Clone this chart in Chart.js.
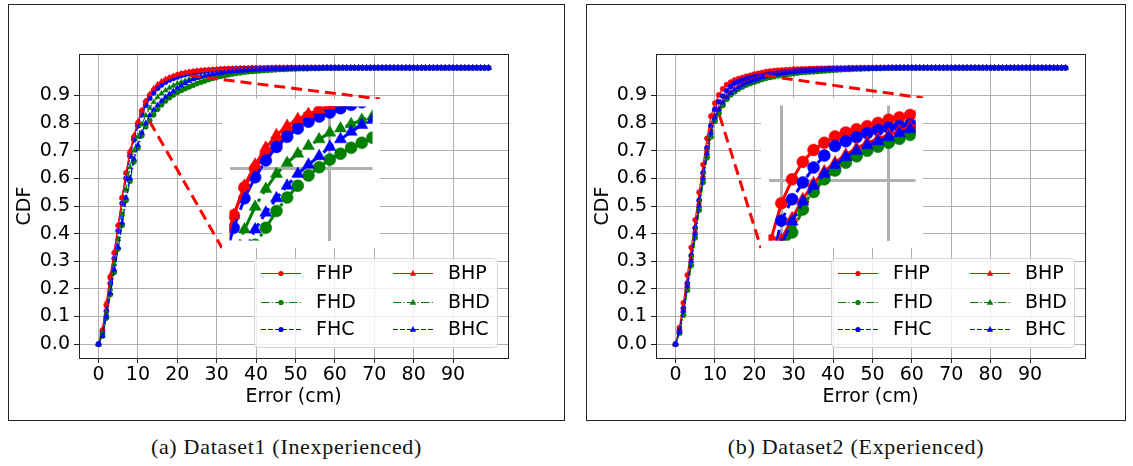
<!DOCTYPE html>
<html>
<head>
<meta charset="utf-8">
<script src="https://cdn.jsdelivr.net/npm/chart.js@4.4.0/dist/chart.umd.min.js"></script>
<style>
  body { margin: 0; background: #fff; width: 1133px; height: 466px; overflow: hidden; position: relative; }
  .box { position: absolute; border: 1px solid #222; box-sizing: border-box; }
  canvas { position: absolute; }
  .inset { background: #fff; }
  .cap { position: absolute; top: 434px; font-family: 'Liberation Serif', serif; font-size: 22px; letter-spacing: 0.7px; color: #111; text-align: center; white-space: nowrap; }
</style>
</head>
<body>
<div class="box" style="left:8px;top:4px;width:557px;height:417px"></div>
<div class="box" style="left:586px;top:4px;width:540px;height:417px"></div>
<canvas id="main1" width="556" height="416" style="left:8px;top:4px"></canvas>
<canvas id="inset1" class="inset" width="158" height="149" style="left:222px;top:99px"></canvas>
<canvas id="main2" width="539" height="416" style="left:586px;top:4px"></canvas>
<canvas id="inset2" class="inset" width="162" height="150" style="left:761px;top:98px"></canvas>
<div class="cap" style="left:8px;width:557px">(a) Dataset1 (Inexperienced)</div>
<div class="cap" style="left:586px;width:540px">(b) Dataset2 (Experienced)</div>

<script>
const errorCm = [
  0, 1, 2, 3, 4, 5, 6, 7, 8, 9,
  10, 11, 12, 13, 14, 15, 16, 17, 18, 19,
  20, 21, 22, 23, 24, 25, 26, 27, 28, 29,
  30, 31, 32, 33, 34, 35, 36, 37, 38, 39,
  40, 41, 42, 43, 44, 45, 46, 47, 48, 49,
  50, 51, 52, 53, 54, 55, 56, 57, 58, 59,
  60, 61, 62, 63, 64, 65, 66, 67, 68, 69,
  70, 71, 72, 73, 74, 75, 76, 77, 78, 79,
  80, 81, 82, 83, 84, 85, 86, 87, 88, 89,
  90, 91, 92, 93, 94, 95, 96, 97, 98, 99
];
const xTicks = [0, 10, 20, 30, 40, 50, 60, 70, 80, 90];
const yTicks = [0, 0.1, 0.2, 0.3, 0.4, 0.5, 0.6, 0.7, 0.8, 0.9];
const seriesNames = ['FHP', 'FHD', 'FHC', 'BHP', 'BHD', 'BHC'];

// Dataset1 (Inexperienced)
const fhp1 = [
  0, 0.05, 0.14, 0.24, 0.33, 0.43, 0.53, 0.62, 0.69, 0.75,
  0.80, 0.845, 0.878, 0.90, 0.918, 0.93, 0.944, 0.954, 0.962, 0.968,
  0.974, 0.978, 0.981, 0.984, 0.986, 0.988, 0.99, 0.991, 0.992, 0.993,
  0.994, 0.995, 0.996, 0.996, 0.997, 0.997, 0.998, 0.998, 0.998, 0.999,
  0.999, 0.999, 0.999, 0.999, 0.999, 1, 1, 1, 1, 1,
  1, 1, 1, 1, 1, 1, 1, 1, 1, 1,
  1, 1, 1, 1, 1, 1, 1, 1, 1, 1,
  1, 1, 1, 1, 1, 1, 1, 1, 1, 1,
  1, 1, 1, 1, 1, 1, 1, 1, 1, 1,
  1, 1, 1, 1, 1, 1, 1, 1, 1, 1
];
const fhd1 = [
  0, 0.03, 0.095, 0.18, 0.26, 0.345, 0.43, 0.52, 0.59, 0.66,
  0.71, 0.755, 0.787, 0.81, 0.83, 0.85, 0.866, 0.88, 0.892, 0.902,
  0.911, 0.918, 0.925, 0.931, 0.937, 0.943, 0.948, 0.953, 0.958, 0.962,
  0.966, 0.969, 0.972, 0.975, 0.978, 0.98, 0.982, 0.984, 0.986, 0.987,
  0.988, 0.989, 0.99, 0.991, 0.992, 0.993, 0.994, 0.994, 0.995, 0.996,
  0.996, 0.997, 0.997, 0.997, 0.998, 0.998, 0.998, 0.999, 0.999, 0.999,
  0.999, 0.999, 1, 1, 1, 1, 1, 1, 1, 1,
  1, 1, 1, 1, 1, 1, 1, 1, 1, 1,
  1, 1, 1, 1, 1, 1, 1, 1, 1, 1,
  1, 1, 1, 1, 1, 1, 1, 1, 1, 1
];
const fhc1 = [
  0, 0.04, 0.12, 0.22, 0.31, 0.41, 0.51, 0.60, 0.68, 0.74,
  0.79, 0.83, 0.865, 0.89, 0.91, 0.926, 0.938, 0.948, 0.956, 0.962,
  0.967, 0.972, 0.976, 0.979, 0.982, 0.984, 0.986, 0.988, 0.99, 0.991,
  0.992, 0.993, 0.994, 0.995, 0.995, 0.996, 0.996, 0.997, 0.997, 0.998,
  0.998, 0.998, 0.998, 0.999, 0.999, 0.999, 0.999, 0.999, 1, 1,
  1, 1, 1, 1, 1, 1, 1, 1, 1, 1,
  1, 1, 1, 1, 1, 1, 1, 1, 1, 1,
  1, 1, 1, 1, 1, 1, 1, 1, 1, 1,
  1, 1, 1, 1, 1, 1, 1, 1, 1, 1,
  1, 1, 1, 1, 1, 1, 1, 1, 1, 1
];
const bhp1 = [
  0, 0.055, 0.15, 0.25, 0.335, 0.43, 0.53, 0.62, 0.70, 0.755,
  0.805, 0.845, 0.88, 0.905, 0.925, 0.94, 0.951, 0.959, 0.965, 0.97,
  0.975, 0.979, 0.982, 0.985, 0.987, 0.989, 0.99, 0.991, 0.992, 0.993,
  0.994, 0.995, 0.996, 0.996, 0.997, 0.997, 0.998, 0.998, 0.998, 0.999,
  0.999, 0.999, 0.999, 0.999, 0.999, 1, 1, 1, 1, 1,
  1, 1, 1, 1, 1, 1, 1, 1, 1, 1,
  1, 1, 1, 1, 1, 1, 1, 1, 1, 1,
  1, 1, 1, 1, 1, 1, 1, 1, 1, 1,
  1, 1, 1, 1, 1, 1, 1, 1, 1, 1,
  1, 1, 1, 1, 1, 1, 1, 1, 1, 1
];
const bhd1 = [
  0, 0.04, 0.11, 0.20, 0.29, 0.38, 0.47, 0.56, 0.64, 0.70,
  0.75, 0.795, 0.828, 0.855, 0.876, 0.894, 0.907, 0.918, 0.927, 0.935,
  0.943, 0.948, 0.953, 0.958, 0.962, 0.965, 0.968, 0.971, 0.974, 0.976,
  0.978, 0.98, 0.982, 0.984, 0.985, 0.987, 0.988, 0.989, 0.99, 0.991,
  0.992, 0.993, 0.994, 0.994, 0.995, 0.996, 0.996, 0.997, 0.997, 0.997,
  0.998, 0.998, 0.998, 0.999, 0.999, 0.999, 0.999, 0.999, 1, 1,
  1, 1, 1, 1, 1, 1, 1, 1, 1, 1,
  1, 1, 1, 1, 1, 1, 1, 1, 1, 1,
  1, 1, 1, 1, 1, 1, 1, 1, 1, 1,
  1, 1, 1, 1, 1, 1, 1, 1, 1, 1
];
const bhc1 = [
  0, 0.03, 0.10, 0.185, 0.27, 0.35, 0.44, 0.53, 0.60, 0.67,
  0.72, 0.765, 0.80, 0.828, 0.848, 0.865, 0.88, 0.894, 0.905, 0.915,
  0.926, 0.935, 0.944, 0.952, 0.958, 0.963, 0.967, 0.971, 0.974, 0.977,
  0.979, 0.981, 0.983, 0.985, 0.987, 0.988, 0.989, 0.99, 0.991, 0.992,
  0.993, 0.994, 0.994, 0.995, 0.996, 0.996, 0.997, 0.997, 0.997, 0.998,
  0.998, 0.998, 0.999, 0.999, 0.999, 0.999, 0.999, 1, 1, 1,
  1, 1, 1, 1, 1, 1, 1, 1, 1, 1,
  1, 1, 1, 1, 1, 1, 1, 1, 1, 1,
  1, 1, 1, 1, 1, 1, 1, 1, 1, 1,
  1, 1, 1, 1, 1, 1, 1, 1, 1, 1
];

// Dataset2 (Experienced)
const fhp2 = [
  0, 0.06, 0.15, 0.25, 0.35, 0.45, 0.55, 0.65, 0.745, 0.825,
  0.872, 0.902, 0.924, 0.939, 0.948, 0.956, 0.961, 0.965, 0.969, 0.973,
  0.977, 0.98, 0.983, 0.986, 0.988, 0.99, 0.991, 0.992, 0.993, 0.994,
  0.995, 0.995, 0.996, 0.996, 0.997, 0.997, 0.998, 0.998, 0.998, 0.999,
  0.999, 0.999, 0.999, 0.999, 1, 1, 1, 1, 1, 1,
  1, 1, 1, 1, 1, 1, 1, 1, 1, 1,
  1, 1, 1, 1, 1, 1, 1, 1, 1, 1,
  1, 1, 1, 1, 1, 1, 1, 1, 1, 1,
  1, 1, 1, 1, 1, 1, 1, 1, 1, 1,
  1, 1, 1, 1, 1, 1, 1, 1, 1, 1
];
const fhd2 = [
  0, 0.04, 0.105, 0.195, 0.285, 0.385, 0.485, 0.585, 0.675, 0.75,
  0.807, 0.835, 0.864, 0.886, 0.902, 0.913, 0.923, 0.931, 0.938, 0.943,
  0.948, 0.953, 0.958, 0.962, 0.965, 0.968, 0.971, 0.973, 0.975, 0.977,
  0.979, 0.981, 0.983, 0.984, 0.985, 0.986, 0.987, 0.988, 0.989, 0.99,
  0.991, 0.992, 0.993, 0.994, 0.994, 0.995, 0.996, 0.996, 0.997, 0.997,
  0.998, 0.998, 0.998, 0.999, 0.999, 0.999, 0.999, 1, 1, 1,
  1, 1, 1, 1, 1, 1, 1, 1, 1, 1,
  1, 1, 1, 1, 1, 1, 1, 1, 1, 1,
  1, 1, 1, 1, 1, 1, 1, 1, 1, 1,
  1, 1, 1, 1, 1, 1, 1, 1, 1, 1
];
const fhc2 = [
  0, 0.05, 0.13, 0.22, 0.32, 0.42, 0.52, 0.62, 0.71, 0.79,
  0.85, 0.877, 0.898, 0.917, 0.932, 0.944, 0.95, 0.955, 0.96, 0.964,
  0.967, 0.969, 0.971, 0.974, 0.977, 0.979, 0.981, 0.983, 0.985, 0.986,
  0.988, 0.989, 0.99, 0.991, 0.992, 0.993, 0.994, 0.995, 0.995, 0.996,
  0.996, 0.997, 0.997, 0.997, 0.998, 0.998, 0.998, 0.998, 0.999, 0.999,
  0.999, 0.999, 0.999, 1, 1, 1, 1, 1, 1, 1,
  1, 1, 1, 1, 1, 1, 1, 1, 1, 1,
  1, 1, 1, 1, 1, 1, 1, 1, 1, 1,
  1, 1, 1, 1, 1, 1, 1, 1, 1, 1,
  1, 1, 1, 1, 1, 1, 1, 1, 1, 1
];
const bhp2 = [
  0, 0.05, 0.125, 0.215, 0.31, 0.41, 0.51, 0.61, 0.70, 0.775,
  0.826, 0.853, 0.877, 0.897, 0.912, 0.923, 0.933, 0.941, 0.948, 0.953,
  0.958, 0.963, 0.968, 0.972, 0.975, 0.978, 0.98, 0.982, 0.984, 0.986,
  0.987, 0.988, 0.989, 0.99, 0.991, 0.992, 0.993, 0.994, 0.995, 0.995,
  0.996, 0.996, 0.997, 0.997, 0.998, 0.998, 0.998, 0.999, 0.999, 0.999,
  0.999, 1, 1, 1, 1, 1, 1, 1, 1, 1,
  1, 1, 1, 1, 1, 1, 1, 1, 1, 1,
  1, 1, 1, 1, 1, 1, 1, 1, 1, 1,
  1, 1, 1, 1, 1, 1, 1, 1, 1, 1,
  1, 1, 1, 1, 1, 1, 1, 1, 1, 1
];
const bhd2 = [
  0, 0.04, 0.11, 0.20, 0.29, 0.39, 0.49, 0.59, 0.68, 0.755,
  0.812, 0.84, 0.868, 0.889, 0.905, 0.916, 0.926, 0.934, 0.941, 0.946,
  0.951, 0.956, 0.961, 0.965, 0.968, 0.971, 0.974, 0.976, 0.978, 0.98,
  0.982, 0.983, 0.985, 0.986, 0.987, 0.988, 0.989, 0.99, 0.991, 0.992,
  0.993, 0.993, 0.994, 0.995, 0.995, 0.996, 0.996, 0.997, 0.997, 0.998,
  0.998, 0.998, 0.999, 0.999, 0.999, 0.999, 1, 1, 1, 1,
  1, 1, 1, 1, 1, 1, 1, 1, 1, 1,
  1, 1, 1, 1, 1, 1, 1, 1, 1, 1,
  1, 1, 1, 1, 1, 1, 1, 1, 1, 1,
  1, 1, 1, 1, 1, 1, 1, 1, 1, 1
];
const bhc2 = [
  0, 0.045, 0.12, 0.21, 0.30, 0.40, 0.50, 0.60, 0.69, 0.765,
  0.82, 0.849, 0.874, 0.894, 0.909, 0.92, 0.93, 0.938, 0.945, 0.95,
  0.955, 0.96, 0.965, 0.969, 0.972, 0.975, 0.977, 0.979, 0.981, 0.983,
  0.984, 0.986, 0.987, 0.988, 0.989, 0.99, 0.991, 0.992, 0.993, 0.994,
  0.994, 0.995, 0.995, 0.996, 0.996, 0.997, 0.997, 0.998, 0.998, 0.998,
  0.999, 0.999, 0.999, 0.999, 1, 1, 1, 1, 1, 1,
  1, 1, 1, 1, 1, 1, 1, 1, 1, 1,
  1, 1, 1, 1, 1, 1, 1, 1, 1, 1,
  1, 1, 1, 1, 1, 1, 1, 1, 1, 1,
  1, 1, 1, 1, 1, 1, 1, 1, 1, 1
];

// zoomed window of each inset, in data units: [x0, x1], [y0, y1]
const inset1X = [10.6, 24];
const inset1Y = [0.815, 0.974];
const inset2X = [8.8, 22.5];
const inset2Y = [0.825, 0.995];
const inset1GridX = [20];
const inset2GridX = [10, 20];
const insetGridY = [0.9];
// where the dashed zoom lines leave the main curves: [lower, upper]
const link1X = [13, 23.2];
const link1Y = [0.806, 0.972];
const link2X = [11.2, 22.7];
const link2Y = [0.827, 0.972];

Chart.defaults.font.family = "'DejaVu Sans', sans-serif";
Chart.defaults.color = '#000';

const styles = [
  { color: '#ff0000', dash: [], shape: 'circle' },
  { color: '#008000', dash: [8.5, 2.1, 1.3, 2.1], shape: 'circle' },
  { color: '#0000ff', dash: [4.9, 2.1], shape: 'circle' },
  { color: '#ff0000', dash: [], shape: 'triangle' },
  { color: '#008000', dash: [8.5, 2.1, 1.3, 2.1], shape: 'triangle' },
  { color: '#0000ff', dash: [4.9, 2.1], shape: 'triangle' }
];

function makeDatasets(seriesVals, big) {
  return seriesVals.map((vals, i) => {
    const st = styles[i];
    const k = big ? 2.6 : 1;
    return {
      label: seriesNames[i],
      data: errorCm.map((x, j) => ({ x: x, y: vals[j] })),
      borderColor: st.color,
      backgroundColor: st.color,
      borderWidth: big ? 3 : 1.2,
      borderDash: st.dash.map(d => d * k),
      pointStyle: st.shape,
      pointRadius: st.shape === 'circle' ? (big ? 6 : 2.6) : (big ? 7 : 3.2),
      pointBackgroundColor: st.color,
      pointBorderColor: st.color,
      pointBorderWidth: 0.5,
      tension: 0,
      order: 5 - i,
      clip: big ? 0 : 4
    };
  });
}

function decorPlugin(insetRect, src) {
  return {
    id: 'decor',
    afterDatasetsDraw(chart) {
      const ctx = chart.ctx, a = chart.chartArea;
      const xs = chart.scales.x, ys = chart.scales.y;
      ctx.save();
      // zoom connectors
      ctx.strokeStyle = '#ff0000';
      ctx.lineWidth = 3;
      ctx.setLineDash([11, 6]);
      ctx.beginPath();
      ctx.moveTo(xs.getPixelForValue(src.x[0]), ys.getPixelForValue(src.y[0]));
      ctx.lineTo(insetRect.left, insetRect.top + insetRect.height);
      ctx.moveTo(xs.getPixelForValue(src.x[1]), ys.getPixelForValue(src.y[1]));
      ctx.lineTo(insetRect.left + insetRect.width, insetRect.top);
      ctx.stroke();
      // frame
      ctx.setLineDash([]);
      ctx.lineWidth = 1;
      ctx.strokeStyle = '#222';
      ctx.strokeRect(Math.round(a.left) + 0.5, Math.round(a.top) + 0.5,
        Math.round(a.right - a.left), Math.round(a.bottom - a.top));
      // legend
      const w = 243, h = 89;
      const lx = a.right - 11 - w, ly = a.bottom - 11 - h;
      ctx.fillStyle = 'rgba(255,255,255,0.8)';
      ctx.strokeStyle = '#d5d5d5';
      ctx.beginPath();
      ctx.roundRect(lx + 0.5, ly + 0.5, w, h, 4);
      ctx.fill();
      ctx.stroke();
      const rows = [15, 44, 71];
      const cols = [{ l0: 7, l1: 47, t: 62 }, { l0: 139, l1: 179, t: 194 }];
      ctx.font = "19px 'DejaVu Sans'";
      ctx.textBaseline = 'middle';
      seriesNames.forEach((name, i) => {
        const st = styles[i];
        const c = cols[Math.floor(i / 3)];
        const y = ly + rows[i % 3] + 0.5;
        ctx.strokeStyle = st.color;
        ctx.lineWidth = 1.2;
        ctx.setLineDash(st.dash);
        ctx.beginPath();
        ctx.moveTo(lx + c.l0, y);
        ctx.lineTo(lx + c.l1, y);
        ctx.stroke();
        ctx.setLineDash([]);
        ctx.fillStyle = st.color;
        const mx = lx + (c.l0 + c.l1) / 2;
        ctx.beginPath();
        if (st.shape === 'circle') {
          ctx.arc(mx, y, 2.6, 0, Math.PI * 2);
        } else {
          ctx.moveTo(mx, y - 3.4);
          ctx.lineTo(mx + 3.2, y + 2.2);
          ctx.lineTo(mx - 3.2, y + 2.2);
          ctx.closePath();
        }
        ctx.fill();
        ctx.fillStyle = '#000';
        ctx.fillText(name, lx + c.t, y + 1);
      });
      ctx.restore();
    }
  };
}

function mainChart(id, seriesVals, yWidth, padRight, insetRect, src) {
  return new Chart(document.getElementById(id), {
    type: 'line',
    data: { datasets: makeDatasets(seriesVals, false) },
    options: {
      responsive: false,
      devicePixelRatio: 1,
      animation: false,
      events: [],
      layout: { padding: { left: 0, top: 50, right: padRight, bottom: 0 } },
      plugins: { legend: { display: false }, tooltip: { enabled: false } },
      scales: {
        x: {
          type: 'linear', min: -4.95, max: 103.95,
          afterBuildTicks: s => { s.ticks = xTicks.map(v => ({ value: v })); },
          afterFit: s => { s.height = 62; },
          ticks: { font: { size: 19 }, padding: 1, maxRotation: 0, autoSkip: false, callback: v => String(v) },
          grid: { color: '#b0b0b0', lineWidth: 1, tickLength: 5, tickColor: '#222' },
          border: { display: false },
          title: { display: true, text: 'Error (cm)', font: { size: 19 }, padding: { top: 0, bottom: 12 } }
        },
        y: {
          type: 'linear', min: -0.05, max: 1.05,
          afterBuildTicks: s => { s.ticks = yTicks.map(v => ({ value: v })); },
          afterFit: s => { s.width = yWidth; },
          ticks: { font: { size: 19 }, padding: 4, autoSkip: false, callback: v => v.toFixed(1) },
          grid: { color: '#b0b0b0', lineWidth: 1, tickLength: 5, tickColor: '#222' },
          border: { display: false },
          title: { display: true, text: 'CDF', font: { size: 19 }, padding: { top: 6, bottom: 0 } }
        }
      }
    },
    plugins: [decorPlugin(insetRect, src)]
  });
}

function insetChart(id, seriesVals, xr, yr, gridX) {
  return new Chart(document.getElementById(id), {
    type: 'line',
    data: { datasets: makeDatasets(seriesVals, true) },
    options: {
      responsive: false,
      devicePixelRatio: 1,
      animation: false,
      events: [],
      layout: { padding: 0 },
      plugins: { legend: { display: false }, tooltip: { enabled: false } },
      scales: {
        x: {
          type: 'linear', min: xr[0], max: xr[1],
          afterBuildTicks: s => { s.ticks = gridX.map(v => ({ value: v })); },
          afterFit: s => { s.height = 0; },
          ticks: { display: false },
          grid: { color: '#b0b0b0', lineWidth: 3, drawTicks: false, tickLength: 0 },
          border: { display: false }
        },
        y: {
          type: 'linear', min: yr[0], max: yr[1],
          afterBuildTicks: s => { s.ticks = insetGridY.map(v => ({ value: v })); },
          afterFit: s => { s.width = 0; },
          ticks: { display: false },
          grid: { color: '#b0b0b0', lineWidth: 3, drawTicks: false, tickLength: 0 },
          border: { display: false }
        }
      }
    }
  });
}

const set1 = [fhp1, fhd1, fhc1, bhp1, bhd1, bhc1];
const set2 = [fhp2, fhd2, fhc2, bhp2, bhd2, bhc2];

mainChart('main1', set1, 71, 56, { left: 214, top: 95, width: 158, height: 149 }, { x: link1X, y: link1Y });
insetChart('inset1', set1, inset1X, inset1Y, inset1GridX);
mainChart('main2', set2, 70, 40, { left: 175, top: 94, width: 162, height: 150 }, { x: link2X, y: link2Y });
insetChart('inset2', set2, inset2X, inset2Y, inset2GridX);
</script>
</body>
</html>
